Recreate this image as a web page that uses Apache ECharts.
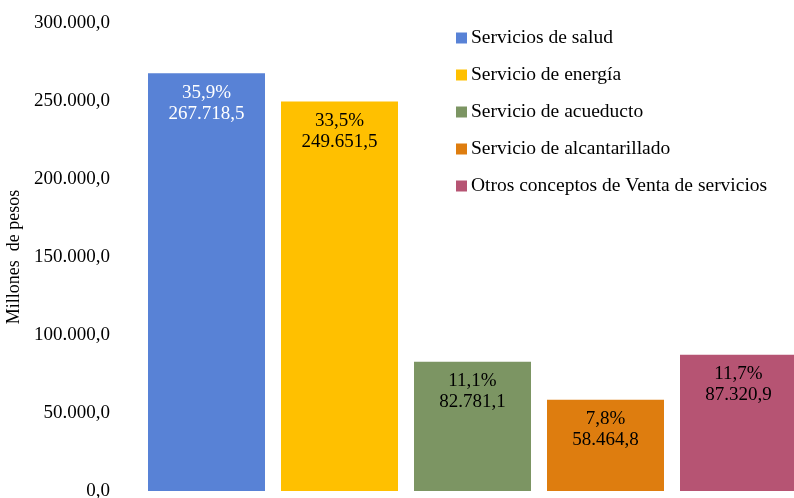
<!DOCTYPE html>
<html>
<head>
    <meta charset="UTF-8">
    <title>Venta de servicios</title>
    <script src="https://cdn.jsdelivr.net/npm/echarts@6/dist/echarts.min.js"></script>
    <style>
        html, body { margin: 0; padding: 0; background: #fff; }
        #main { width: 794px; height: 498px; }
    </style>
</head>
<body>
<div id="main"></div>
<script>
    var categorias = ['Servicios de salud', 'Servicio de energía', 'Servicio de acueducto', 'Servicio de alcantarillado', 'Otros conceptos de Venta de servicios'];
    var valores = [267718.5, 249651.5, 82781.1, 58464.8, 87320.9];
    var porcentajes = ['35,9%', '33,5%', '11,1%', '7,8%', '11,7%'];
    var colores = ['#5882d6', '#ffc000', '#7c9563', '#de7d0f', '#b65473'];
    var colorTexto = ['#ffffff', '#000000', '#000000', '#000000', '#000000'];

    function formatoNumero(v, dec) {
        var partes = v.toFixed(dec).split('.');
        var entero = partes[0].replace(/\B(?=(\d{3})+(?!\d))/g, '.');
        return entero + ',' + partes[1];
    }

    var fuente = '"Liberation Serif", "Times New Roman", serif';

    // una serie por concepto, apiladas para que cada barra quede centrada en su categoría
    var series = categorias.map(function (nombre, i) {
        var datos = categorias.map(function (c, j) { return j === i ? valores[i] : null; });
        return {
            name: nombre,
            type: 'bar',
            stack: 'total',
            barWidth: 117,
            data: datos,
            itemStyle: { color: colores[i] },
            label: {
                show: true,
                position: 'insideTop',
                distance: 9,
                fontFamily: fuente,
                fontSize: 19,
                lineHeight: 21,
                color: colorTexto[i],
                formatter: function () {
                    return porcentajes[i] + '\n' + formatoNumero(valores[i], 1);
                }
            }
        };
    });

    var myChart = echarts.init(document.getElementById('main'));
    var option = {
        animation: false,
        textStyle: { fontFamily: fuente },
        grid: { left: 140, top: 23, width: 665, height: 468, outerBoundsMode: 'none' },
        legend: {
            orient: 'vertical',
            left: 451,
            top: 23,
            itemWidth: 11,
            itemHeight: 11,
            itemGap: 17,
            icon: 'rect',
            textStyle: { fontFamily: fuente, fontSize: 19.5, color: '#000', padding: [0, 0, 0, -1] },
            data: categorias
        },
        xAxis: {
            type: 'category',
            data: categorias,
            axisLine: { show: false },
            axisTick: { show: false },
            axisLabel: { show: false }
        },
        yAxis: {
            type: 'value',
            min: 0,
            max: 300000,
            interval: 50000,
            name: 'Millones  de pesos',
            nameLocation: 'middle',
            nameGap: 110,
            nameRotate: 90,
            nameTextStyle: { fontFamily: fuente, fontSize: 18, color: '#000' },
            splitLine: { show: false },
            axisLine: { show: false },
            axisTick: { show: false },
            axisLabel: {
                fontFamily: fuente,
                fontSize: 19,
                color: '#000',
                margin: 30,
                formatter: function (v) { return formatoNumero(v, 1); }
            }
        },
        series: series
    };
    myChart.setOption(option);
</script>
</body>
</html>
